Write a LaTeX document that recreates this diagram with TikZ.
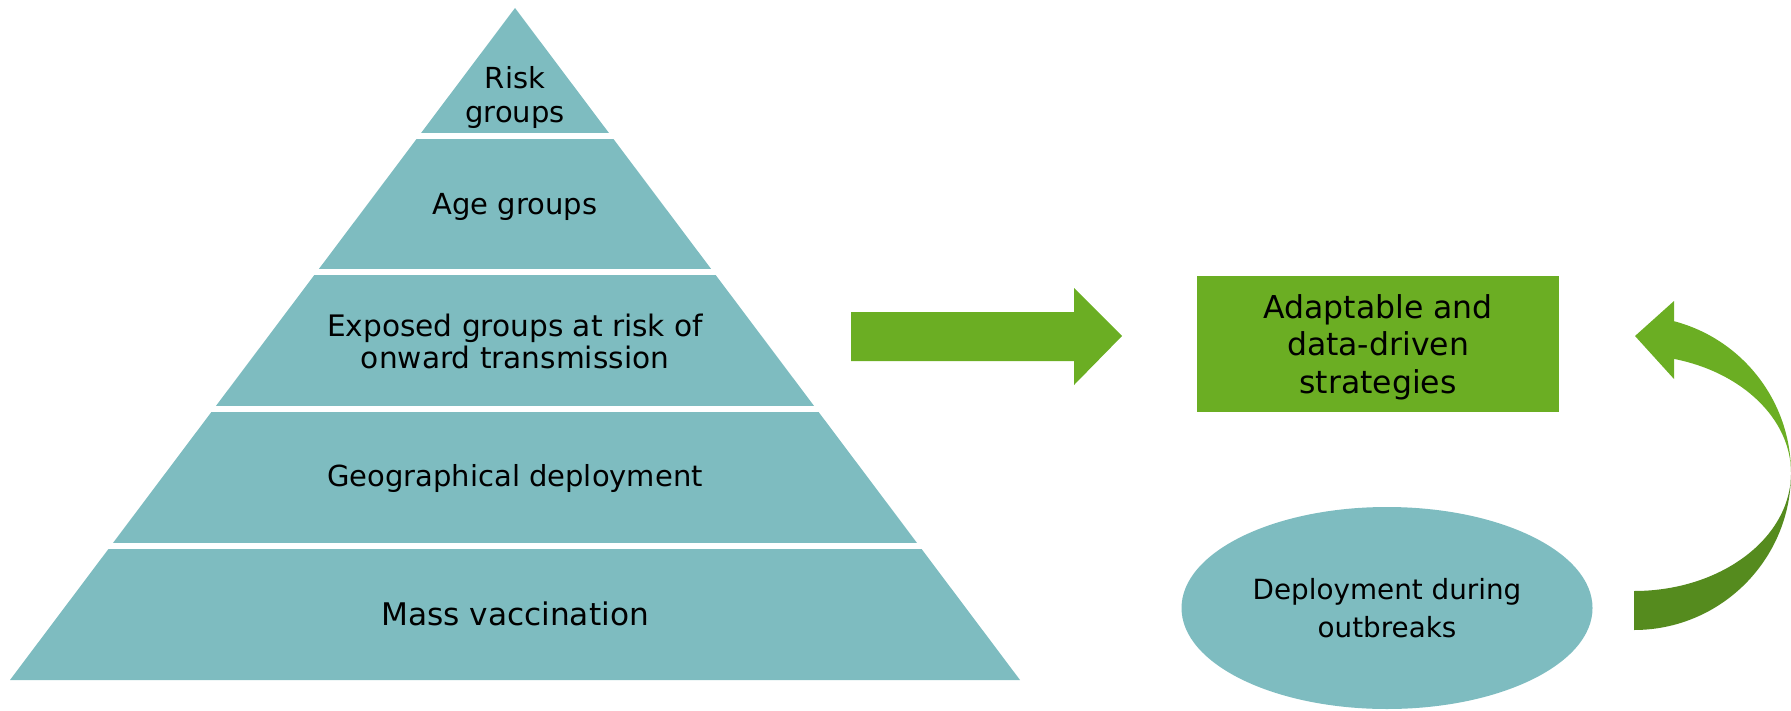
\documentclass[tikz,border=0pt]{standalone}
\usepackage{fontspec}
\setmainfont{DejaVu Sans}
\usetikzlibrary{shapes.geometric}

\definecolor{tealfill}{RGB}{126,188,192}
\definecolor{leafgreen}{RGB}{107,174,35}
\definecolor{darkleaf}{RGB}{85,139,30}

\begin{document}
\begin{tikzpicture}[
    x=0.5pt, y=-0.5pt,
    tier/.style={
        align=center,
        font=\fontsize{14.5}{17}\selectfont
    },
    sep/.style={draw=white, line width=3pt},
    stratbox/.style={
        rectangle,
        fill=leafgreen,
        minimum width=181pt,
        minimum height=68pt,
        text depth=0pt,
        align=center,
        font=\fontsize{15.75}{18.75}\selectfont
    },
    outbreak/.style={
        ellipse,
        fill=tealfill,
        minimum width=205.5pt,
        minimum height=101pt,
        inner sep=0pt,
        align=center,
        font=\fontsize{13.9}{19}\selectfont
    }
]

\useasboundingbox (0,0) rectangle (1791,711);

% Pyramid
\fill[tealfill] (515,8) -- (1020,680) -- (10,680) -- cycle;
\foreach \y in {136,272,409,546}
    \draw[sep] (0,\y) -- (1030,\y);

\node[tier] (risk) at (515,98) {Risk\\groups};
\node[tier] (age) at (515,207) {Age groups};
\node[tier, font=\fontsize{14.8}{16}\selectfont] (exposed) at (515,341) {Exposed groups at risk of\\onward transmission};
\node[tier] (geo) at (515,478) {Geographical deployment};
\node[tier, font=\fontsize{15.6}{18}\selectfont] (mass) at (515,614) {Mass vaccination};

% Strategies
\node[stratbox] (strat) at (1378,344) {Adaptable and\\data-driven\\strategies};
\node[outbreak] (outbr) at (1387,608) {Deployment during\\outbreaks};

% Block arrow
\fill[leafgreen] (851,312) -- (1074,312) -- (1074,288) -- (1122,336)
    -- (1074,385) -- (1074,361) -- (851,361) -- cycle;

% Curved arrow, lower half
\fill[darkleaf] (1634,630) arc[start angle=90, end angle=0, radius=157]
    arc[start angle=0, end angle=90, x radius=157, y radius=118] -- cycle;
% Curved arrow, upper half with head
\fill[leafgreen] (1791,473) arc[start angle=0, end angle=-75.24, radius=157]
    -- (1674,301) -- (1635,336) -- (1674,379) -- (1674,358.9)
    arc[start angle=-75.24, end angle=0, x radius=157, y radius=118] -- cycle;

\end{tikzpicture}
\end{document}
